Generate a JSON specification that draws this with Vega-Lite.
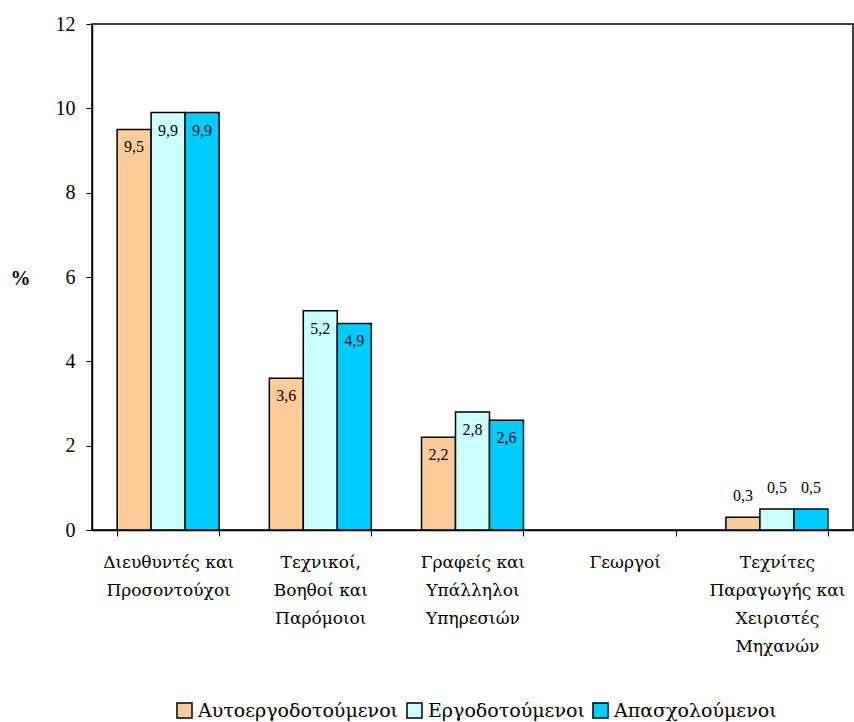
{
  "$schema": "https://vega.github.io/schema/vega-lite/v6.json",
  "autosize": "none",
  "padding": {"left": 92, "top": 24, "right": 1, "bottom": 192},
  "width": 761,
  "height": 506,
  "background": "white",
  "config": {
    "font": "Liberation Serif",
    "view": {"stroke": "black", "strokeWidth": 1.5},
    "locale": {"number": {"decimal": ",", "thousands": ".", "grouping": [3], "currency": ["", " €"]}}
  },
  "data": {
    "values": [
      {"category": "Διευθυντές και|Προσοντούχοι", "series": "Αυτοεργοδοτούμενοι", "value": 9.5},
      {"category": "Διευθυντές και|Προσοντούχοι", "series": "Εργοδοτούμενοι", "value": 9.9},
      {"category": "Διευθυντές και|Προσοντούχοι", "series": "Απασχολούμενοι", "value": 9.9},
      {"category": "Τεχνικοί,|Βοηθοί και|Παρόμοιοι", "series": "Αυτοεργοδοτούμενοι", "value": 3.6},
      {"category": "Τεχνικοί,|Βοηθοί και|Παρόμοιοι", "series": "Εργοδοτούμενοι", "value": 5.2},
      {"category": "Τεχνικοί,|Βοηθοί και|Παρόμοιοι", "series": "Απασχολούμενοι", "value": 4.9},
      {"category": "Γραφείς και|Υπάλληλοι|Υπηρεσιών", "series": "Αυτοεργοδοτούμενοι", "value": 2.2},
      {"category": "Γραφείς και|Υπάλληλοι|Υπηρεσιών", "series": "Εργοδοτούμενοι", "value": 2.8},
      {"category": "Γραφείς και|Υπάλληλοι|Υπηρεσιών", "series": "Απασχολούμενοι", "value": 2.6},
      {"category": "Τεχνίτες|Παραγωγής και|Χειριστές|Μηχανών", "series": "Αυτοεργοδοτούμενοι", "value": 0.3},
      {"category": "Τεχνίτες|Παραγωγής και|Χειριστές|Μηχανών", "series": "Εργοδοτούμενοι", "value": 0.5},
      {"category": "Τεχνίτες|Παραγωγής και|Χειριστές|Μηχανών", "series": "Απασχολούμενοι", "value": 0.5}
    ]
  },
  "encoding": {
    "x": {
      "field": "category",
      "type": "nominal",
      "sort": null,
      "scale": {
        "domain": ["Διευθυντές και|Προσοντούχοι", "Τεχνικοί,|Βοηθοί και|Παρόμοιοι", "Γραφείς και|Υπάλληλοι|Υπηρεσιών", "Γεωργοί", "Τεχνίτες|Παραγωγής και|Χειριστές|Μηχανών"],
        "paddingInner": 0.33,
        "paddingOuter": 0.165
      },
      "axis": {
        "title": null,
        "labelAngle": 0,
        "labelFont": "DejaVu Serif",
        "labelExpr": "split(datum.label, '|')",
        "labelFontSize": 17,
        "labelLineHeight": 28,
        "labelColor": "black",
        "labelPadding": 18,
        "labelBaseline": "top",
        "labelLimit": 300,
        "tickBand": "extent",
        "tickColor": "black",
        "tickSize": 6,
        "domainColor": "black",
        "domainWidth": 1.5
      }
    },
    "xOffset": {
      "field": "series",
      "type": "nominal",
      "sort": ["Αυτοεργοδοτούμενοι", "Εργοδοτούμενοι", "Απασχολούμενοι"],
      "scale": {"paddingInner": 0, "paddingOuter": 0}
    },
    "y": {
      "field": "value",
      "type": "quantitative",
      "scale": {"domain": [0, 12], "nice": false},
      "axis": {
        "values": [0, 2, 4, 6, 8, 10, 12],
        "format": "d",
        "grid": false,
        "title": "%",
        "titleAngle": 0,
        "titleFontWeight": "bold",
        "titleFontSize": 20,
        "titleX": -72,
        "titleY": 254,
        "titleAlign": "center",
        "titleBaseline": "middle",
        "labelFontSize": 20,
        "labelColor": "black",
        "labelPadding": 11,
        "tickColor": "black",
        "tickSize": 6,
        "domainColor": "black",
        "domainWidth": 1.5
      }
    }
  },
  "layer": [
    {
      "mark": {"type": "bar", "stroke": "black", "strokeWidth": 1.5},
      "encoding": {
        "color": {
          "field": "series",
          "type": "nominal",
          "sort": ["Αυτοεργοδοτούμενοι", "Εργοδοτούμενοι", "Απασχολούμενοι"],
          "scale": {
            "domain": ["Αυτοεργοδοτούμενοι", "Εργοδοτούμενοι", "Απασχολούμενοι"],
            "range": ["#FFCC99", "#CCFFFF", "#00CCFF"]
          },
          "legend": {
            "title": null,
            "orient": "none",
            "direction": "horizontal",
            "legendX": 83,
            "legendY": 677,
            "symbolType": "square",
            "symbolSize": 225,
            "symbolStrokeColor": "black",
            "symbolStrokeWidth": 1.5,
            "symbolOpacity": 1,
            "labelFont": "DejaVu Serif",
            "labelFontSize": 19,
            "labelLimit": 400,
            "labelColor": "black",
            "labelOffset": 4,
            "columnPadding": 5
          }
        }
      }
    },
    {
      "transform": [{"filter": "datum.value >= 1"}],
      "mark": {"type": "text", "fontSize": 16, "dy": 18, "baseline": "middle", "color": "black"},
      "encoding": {"text": {"field": "value", "type": "quantitative", "format": ".1f"}}
    },
    {
      "transform": [{"filter": "datum.value < 1"}],
      "mark": {"type": "text", "fontSize": 16, "dy": -21, "baseline": "middle", "color": "black"},
      "encoding": {"text": {"field": "value", "type": "quantitative", "format": ".1f"}}
    }
  ]
}
